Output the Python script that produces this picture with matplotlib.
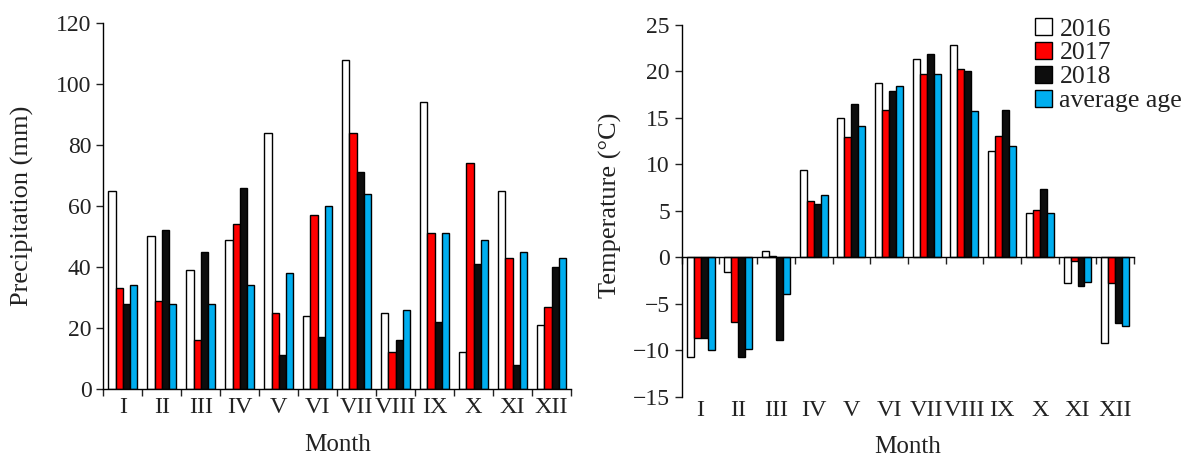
import numpy as np
import matplotlib
matplotlib.use("Agg")
import matplotlib.pyplot as plt
from matplotlib.transforms import blended_transform_factory

plt.rcParams['font.family'] = ['Liberation Serif', 'DejaVu Serif']
plt.rcParams['font.size'] = 17

MONTHS = ['I', 'II', 'III', 'IV', 'V', 'VI', 'VII', 'VIII', 'IX', 'X', 'XI', 'XII']
SERIES = ['2016', '2017', '2018', 'average age']
COLORS = ['white', '#ff0000', '#0d0d0d', '#00aeef']

# precipitation (mm)
prec_2016 = [65, 50, 39, 49, 84, 24, 108, 25, 94, 12, 65, 21]
prec_2017 = [33, 29, 16, 54, 25, 57, 84, 12, 51, 74, 43, 27]
prec_2018 = [28, 52, 45, 66, 11, 17, 71, 16, 22, 41, 8, 40]
prec_avg = [34, 28, 28, 34, 38, 60, 64, 26, 51, 49, 45, 43]

# temperature (degC)
temp_2016 = [-10.7, -1.6, 0.7, 9.4, 15.0, 18.8, 21.3, 22.8, 11.4, 4.8, -2.8, -9.2]
temp_2017 = [-8.7, -7.0, 0.1, 6.1, 13.0, 15.9, 19.7, 20.3, 13.1, 5.1, -0.4, -2.8]
temp_2018 = [-8.7, -10.7, -8.9, 5.7, 16.5, 17.9, 21.9, 20.0, 15.9, 7.3, -3.1, -7.1]
temp_avg = [-10.0, -9.9, -4.0, 6.7, 14.1, 18.4, 19.7, 15.7, 12.0, 4.8, -2.7, -7.4]

W = 0.185
TXT = '#222222'
x = np.arange(len(MONTHS))
bounds = np.arange(-0.5, len(MONTHS), 1.0)

fig = plt.figure(figsize=(11.85, 4.59), dpi=100)
ax1 = fig.add_axes([0.0872, 0.1525, 0.3947, 0.7975])
ax2 = fig.add_axes([0.5753, 0.1357, 0.3817, 0.8098])


def draw_bars(ax, data):
    handles = []
    for i, (vals, c) in enumerate(zip(data, COLORS)):
        b = ax.bar(x + (i - 1.5) * W, vals, W, color=c, edgecolor='black',
                   linewidth=1.0, label=SERIES[i], zorder=2)
        handles.append(b)
    ax.set_xlim(-0.5, len(MONTHS) - 0.5)
    ax.set_xticks(bounds)
    ax.set_xticklabels([])
    ax.spines['top'].set_visible(False)
    ax.spines['right'].set_visible(False)
    for s in ('left', 'bottom'):
        ax.spines[s].set_linewidth(1.0)
    ax.tick_params(direction='out', length=5, width=1.0, colors=TXT)
    return handles


# left: precipitation
draw_bars(ax1, [prec_2016, prec_2017, prec_2018, prec_avg])
ax1.set_ylim(0, 120)
ax1.set_yticks(range(0, 121, 20))
tr1 = blended_transform_factory(ax1.transData, ax1.transAxes)
for xi, m in zip(x, MONTHS):
    ax1.text(xi, -0.05, m, transform=tr1, ha='center', va='center', color=TXT,
             fontsize=17.5)
ax1.set_ylabel('Precipitation (mm)', color=TXT, fontsize=19)
ax1.yaxis.set_label_coords(-0.148, 0.5)
ax1.text(0.5, -0.153, 'Month', transform=ax1.transAxes, ha='center', va='center',
         color=TXT, fontsize=18)

# right: temperature
handles = draw_bars(ax2, [temp_2016, temp_2017, temp_2018, temp_avg])
ax2.set_ylim(-15, 25)
ax2.set_yticks(range(-15, 26, 5))
ax2.spines['bottom'].set_position(('data', 0))
tr2 = blended_transform_factory(ax2.transData, ax2.transAxes)
for xi, m in zip(x, MONTHS):
    ax2.text(xi, -0.037, m, transform=tr2, ha='center', va='center', color=TXT,
             fontsize=17.5)
ax2.set_ylabel('Temperature (°C)', color=TXT, fontsize=19)
ax2.yaxis.set_label_coords(-0.132, 0.515)
ax2.text(0.5, -0.135, 'Month', transform=ax2.transAxes, ha='center', va='center',
         color=TXT, fontsize=18)

fig.legend(handles=handles, loc='upper left', bbox_to_anchor=(1035 / 1185, 1 - 18 / 459),
           frameon=False, handlelength=0.65, handleheight=0.65, handletextpad=0.3,
           labelspacing=0.05, borderpad=0, borderaxespad=0, labelcolor=TXT,
           fontsize=18.5)

fig.savefig('out.png', dpi=100)
